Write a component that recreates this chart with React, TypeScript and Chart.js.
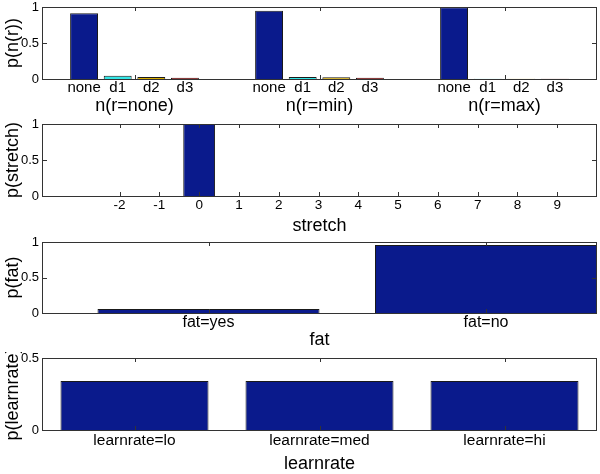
import React, { useEffect, useRef } from 'react';
import { Chart, registerables } from 'chart.js';
Chart.register(...registerables);

const FONT = '"Liberation Sans", Arial, Helvetica, sans-serif';

// Panel 1: p(n(r))
const nGroups = ['n(r=none)', 'n(r=min)', 'n(r=max)'];
const nSeries = ['none', 'd1', 'd2', 'd3'];
const nNone = [0.913, 0.949, 0.997];
const nD1 = [0.046, 0.028, 0.005];
const nD2 = [0.028, 0.023, 0.005];
const nD3 = [0.018, 0.018, 0.005];
const nColors = ['#0a1a8c', '#33e6e6', '#d9ad00', '#7a0f0f'];

// Panel 2: p(stretch)
const stretchValues = [-2, -1, 0, 1, 2, 3, 4, 5, 6, 7, 8, 9];
const stretchProb = [0, 0, 1, 0, 0, 0, 0, 0, 0, 0, 0, 0];

// Panel 3: p(fat)
const fatLabels = ['fat=yes', 'fat=no'];
const fatPositions = [1, 2];
const fatProb = [0.056, 0.958];

// Panel 4: p(learnrate)
const learnLabels = ['learnrate=lo', 'learnrate=med', 'learnrate=hi'];
const learnProb = [0.34, 0.34, 0.34];

const BAR = '#0a1a8c';
const EDGE = '#1a1a1a';

const matlabAxes = {
  id: 'matlabAxes',
  afterDatasetsDraw(chart: any) {
    const { ctx, chartArea: a, scales } = chart;
    ctx.save();
    ctx.strokeStyle = '#333';
    ctx.lineWidth = 1;
    ctx.beginPath();
    const xs = scales.x;
    xs.ticks.forEach((_t: any, i: number) => {
      const px = Math.round(xs.getPixelForTick(i)) + 0.5;
      ctx.moveTo(px, a.bottom); ctx.lineTo(px, a.bottom - 4);
      ctx.moveTo(px, a.top); ctx.lineTo(px, a.top + 4);
    });
    const ys = scales.y;
    ys.ticks.forEach((_t: any, i: number) => {
      const py = Math.round(ys.getPixelForTick(i)) + 0.5;
      ctx.moveTo(a.left, py); ctx.lineTo(a.left + 5, py);
      ctx.moveTo(a.right, py); ctx.lineTo(a.right - 5, py);
    });
    ctx.stroke();
    ctx.strokeRect(Math.round(a.left) + 0.5, Math.round(a.top) + 0.5,
      Math.round(a.right - a.left) - 1, Math.round(a.bottom - a.top));
    ctx.restore();
  },
};

const barLabels = {
  id: 'barLabels',
  afterDraw(chart: any) {
    const { ctx, chartArea: a } = chart;
    ctx.save();
    ctx.font = `15px ${FONT}`;
    ctx.fillStyle = '#000';
    ctx.textAlign = 'center';
    ctx.textBaseline = 'middle';
    chart.data.datasets.forEach((ds: any, di: number) => {
      const meta = chart.getDatasetMeta(di);
      meta.data.forEach((bar: any) => {
        ctx.fillText(ds.label, bar.x, a.bottom + 9);
      });
    });
    ctx.restore();
  },
};

function yScale(max: number, title: string) {
  return {
    min: 0,
    max,
    ticks: {
      stepSize: 0.5, font: { family: FONT, size: 13 }, color: '#000', padding: 3,
      callback: (v: any) => String(Number(v)),
    },
    grid: { display: false, drawTicks: false },
    border: { display: false },
    title: {
      display: true, text: title, color: '#000',
      font: { family: FONT, size: 18, lineHeight: 1 },
      padding: { top: 4, bottom: 0 },
    },
    afterFit: (s: any) => { s.width = 42; s.paddingTop = 0; s.paddingBottom = 0; },
  };
}

function xTitle(text: string, pb: number) {
  return {
    display: true, text, color: '#000',
    font: { family: FONT, size: 18, lineHeight: 1 },
    padding: { top: 0, bottom: pb },
  };
}

const common = {
  responsive: false,
  animation: false,
  plugins: { legend: { display: false }, tooltip: { enabled: false } },
};

const edgeWidth = (c: any) => {
  const v = c.raw && typeof c.raw === 'object' ? c.raw.y : c.raw;
  return v > 0 ? 1 : 0;
};

function makeP1() {
  const series = [nNone, nD1, nD2, nD3];
  return {
    type: 'bar',
    data: {
      labels: nGroups,
      datasets: series.map((d, i) => ({
        label: nSeries[i], data: d, backgroundColor: nColors[i], borderColor: EDGE,
        borderWidth: 1, categoryPercentage: 0.727, barPercentage: 0.83,
      })),
    },
    options: {
      ...common,
      layout: { padding: { top: 7, right: 3, left: 0, bottom: 0 } },
      scales: {
        x: {
          type: 'category', offset: true,
          ticks: { font: { family: FONT, size: 18 }, color: '#000', padding: 16, maxRotation: 0, autoSkip: false },
          grid: { display: false, drawTicks: false, offset: false },
          border: { display: false },
          afterFit: (s: any) => { s.height = 36; s.paddingLeft = 0; s.paddingRight = 0; },
        },
        y: yScale(1, 'p(n(r))'),
      },
    },
    plugins: [matlabAxes, barLabels],
  };
}

function makeP2() {
  return {
    type: 'bar',
    data: {
      datasets: [{
        label: 'p(stretch)',
        data: stretchValues.map((v, i) => ({ x: v, y: stretchProb[i] })),
        backgroundColor: BAR, borderColor: EDGE, borderWidth: edgeWidth,
        categoryPercentage: 1, barPercentage: 0.8,
      }],
    },
    options: {
      ...common,
      layout: { padding: { top: 9, right: 3, left: 0, bottom: 0 } },
      scales: {
        x: {
          type: 'linear', min: -3.95, max: 10, offset: false,
          afterBuildTicks: (s: any) => { s.ticks = stretchValues.map((v) => ({ value: v })); },
          ticks: {
            font: { family: FONT, size: 13.5 }, color: '#000', padding: 1, autoSkip: false, maxRotation: 0,
            callback: (v: any) => String(v),
          },
          grid: { display: false, drawTicks: false },
          border: { display: false },
          title: xTitle('stretch', 0),
          afterFit: (s: any) => { s.height = 39; s.paddingLeft = 0; s.paddingRight = 0; },
        },
        y: yScale(1, 'p(stretch)'),
      },
    },
    plugins: [matlabAxes],
  };
}

function makeP3() {
  return {
    type: 'bar',
    data: {
      datasets: [{
        label: 'p(fat)',
        data: fatPositions.map((p, i) => ({ x: p, y: fatProb[i] })),
        backgroundColor: BAR, borderColor: EDGE, borderWidth: 1,
        categoryPercentage: 1, barPercentage: 0.8,
      }],
    },
    options: {
      ...common,
      layout: { padding: { top: 7, right: 3, left: 0, bottom: 0 } },
      scales: {
        x: {
          type: 'linear', min: 0.4, max: 2.4, offset: false,
          afterBuildTicks: (s: any) => { s.ticks = fatPositions.map((v) => ({ value: v })); },
          ticks: {
            font: { family: FONT, size: 16 }, color: '#000', padding: 0, autoSkip: false, maxRotation: 0,
            callback: (v: any) => fatLabels[fatPositions.indexOf(Number(v))] ?? '',
          },
          grid: { display: false, drawTicks: false },
          border: { display: false },
          title: xTitle('fat', 1),
          afterFit: (s: any) => { s.height = 37; s.paddingLeft = 0; s.paddingRight = 0; },
        },
        y: yScale(1, 'p(fat)'),
      },
    },
    plugins: [matlabAxes],
  };
}

function makeP4() {
  return {
    type: 'bar',
    data: {
      labels: learnLabels,
      datasets: [{
        label: 'p(learnrate)', data: learnProb,
        backgroundColor: BAR, borderColor: EDGE, borderWidth: 1,
        categoryPercentage: 1, barPercentage: 0.8,
      }],
    },
    options: {
      ...common,
      layout: { padding: { top: 6, right: 3, left: 0, bottom: 0 } },
      scales: {
        x: {
          type: 'category', offset: true,
          ticks: { font: { family: FONT, size: 15.5 }, color: '#000', padding: 1, maxRotation: 0, autoSkip: false },
          grid: { display: false, drawTicks: false, offset: false },
          border: { display: false },
          title: xTitle('learnrate', 1),
          afterFit: (s: any) => { s.height = 44; s.paddingLeft = 0; s.paddingRight = 0; },
        },
        y: yScale(0.5, 'p(learnrate)'),
      },
    },
    plugins: [matlabAxes],
  };
}

function Panel({ top, height, make }: { top: number; height: number; make: () => any }) {
  const ref = useRef<HTMLCanvasElement>(null);
  useEffect(() => {
    const chart = new Chart(ref.current as HTMLCanvasElement, make());
    return () => chart.destroy();
  }, []);
  return (
    <canvas
      ref={ref}
      width={600}
      height={height}
      style={{ position: 'absolute', left: 0, top, width: 600, height, display: 'block' }}
    />
  );
}

export default function App() {
  return (
    <div style={{ position: 'fixed', left: 0, top: 0, width: 600, height: 474, background: '#fff', overflow: 'hidden' }}>
      <Panel top={0} height={115} make={makeP1} />
      <Panel top={115} height={120} make={makeP2} />
      <Panel top={235} height={115} make={makeP3} />
      <Panel top={352} height={122} make={makeP4} />
    </div>
  );
}
